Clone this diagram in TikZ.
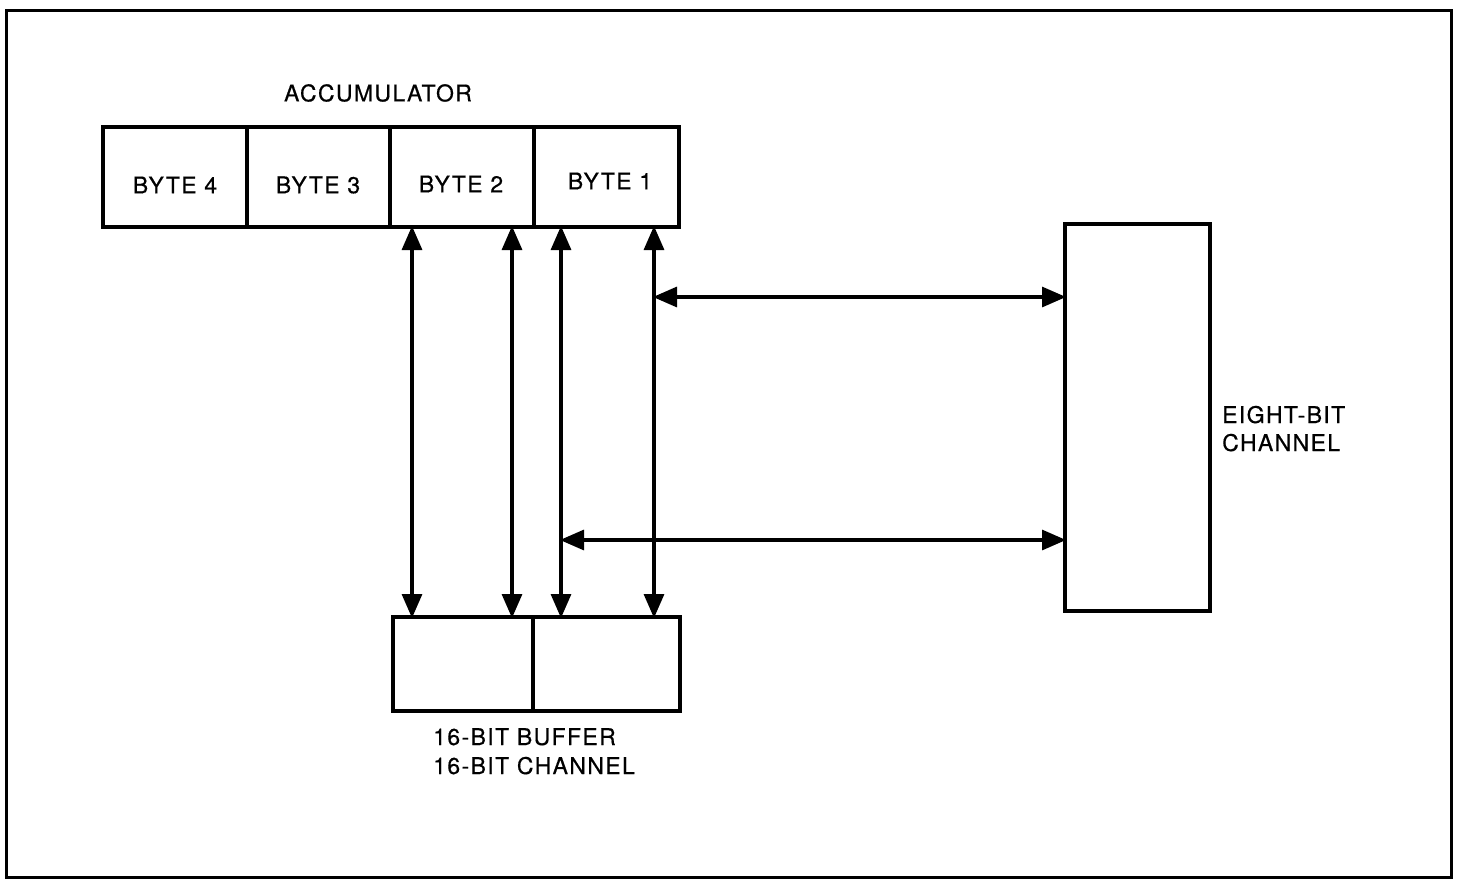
\documentclass[tikz,border=0pt]{standalone}
\usepackage{fontspec}
\setmainfont{TeX Gyre Heros}[LetterSpace=6,FakeBold=0.5]
\usetikzlibrary{arrows.meta}
\begin{document}
\begin{tikzpicture}[x=1pt,y=-1pt,
  cell/.style={draw, line width=3.2pt, inner sep=0pt, outer sep=0pt},
  lbl/.style={font=\fontsize{23}{28}\selectfont, inner sep=0pt},
  conn/.style={line width=3.2pt, {Triangle[length=24pt,width=20pt]}-{Triangle[length=24pt,width=20pt]}, shorten <=-1pt, shorten >=-1pt}]
\useasboundingbox (0,0) rectangle (1461,878);
% outer frame
\draw[line width=3pt] (6,10) rectangle (1451,877);
% accumulator cells
\node[cell, minimum width=144pt, minimum height=100pt] (c4) at (175,177) {};
\node[cell, minimum width=143pt, minimum height=100pt] (c3) at (318.5,177) {};
\node[cell, minimum width=144pt, minimum height=100pt] (c2) at (462,177) {};
\node[cell, minimum width=145pt, minimum height=100pt] (c1) at (606.5,177) {};
\node[lbl] (t4) at (175,185) {BYTE 4};
\node[lbl] (t3) at (318,185) {BYTE 3};
\node[lbl] (t2) at (461,184) {BYTE 2};
\node[lbl] (t1) at (610,181) {BYTE 1};
\node[lbl] (acc) at (378,93) {ACCUMULATOR};
% buffer cells
\node[cell, minimum width=140pt, minimum height=94pt] (bL) at (463,664) {};
\node[cell, minimum width=147pt, minimum height=94pt] (bR) at (606.5,664) {};
\node[lbl, anchor=base west] (buflbl) at (433,745) {16-BIT BUFFER};
\node[lbl, anchor=base west] (chlbl) at (433,774) {16-BIT CHANNEL};
% eight-bit channel
\node[cell, minimum width=145pt, minimum height=387pt] (eb) at (1137.5,417.5) {};
\node[lbl, anchor=base west] (e1) at (1222,423) {EIGHT-BIT};
\node[lbl, anchor=base west] (e2) at (1222,451) {CHANNEL};
% vertical connectors
\draw[conn] (c2.south -| 412,0) -- (bL.north -| 412,0);
\draw[conn] (c2.south -| 512,0) -- (bL.north -| 512,0);
\draw[conn] (c1.south -| 561,0) -- (bR.north -| 561,0);
\draw[conn] (c1.south -| 654,0) -- (bR.north -| 654,0);
% horizontal connectors
\draw[conn] (654,297) -- (eb.west |- 0,297);
\draw[conn] (561,540) -- (eb.west |- 0,540);
\end{tikzpicture}
\end{document}
